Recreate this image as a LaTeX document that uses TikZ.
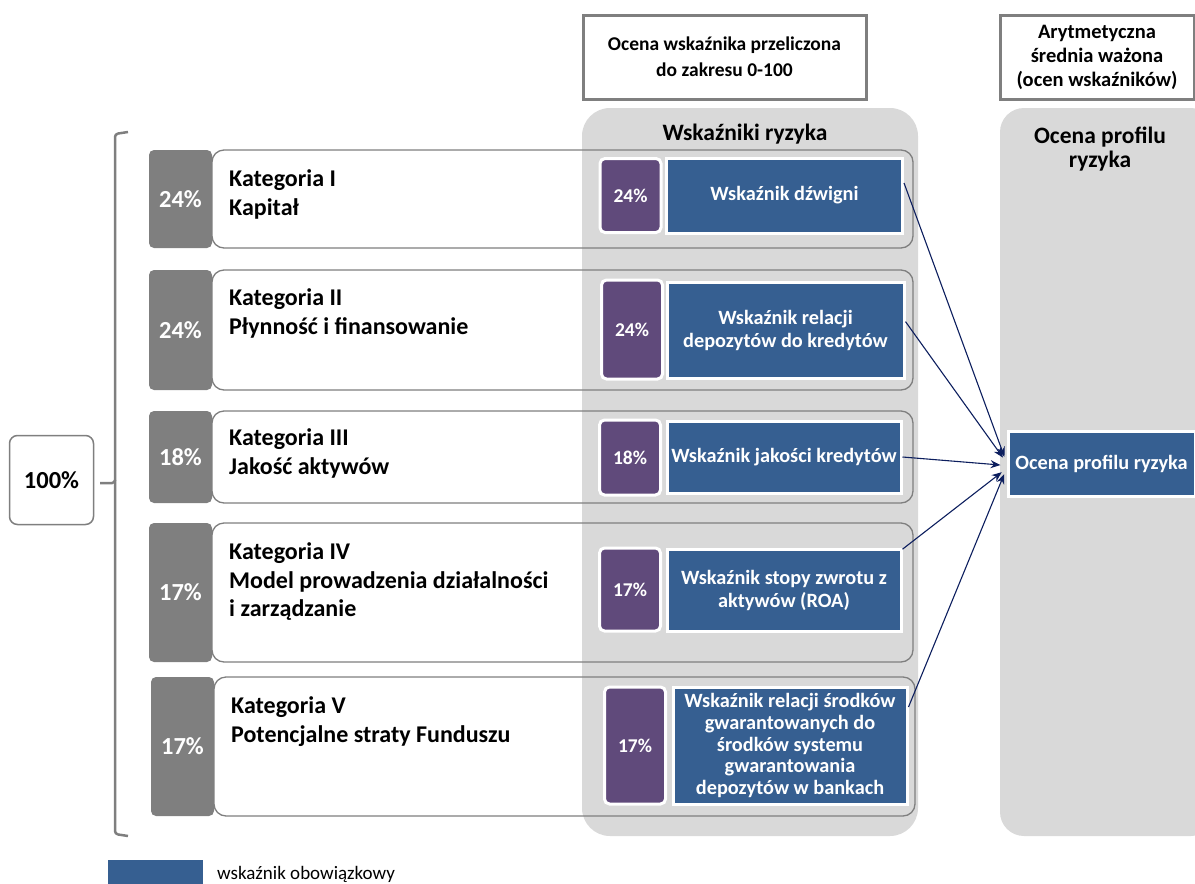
\documentclass[tikz,border=0pt]{standalone}
\usepackage{fontspec}
\setmainfont{Carlito}
\usetikzlibrary{arrows.meta}
\definecolor{tabgray}{HTML}{7F7F7F}
\definecolor{colgray}{HTML}{D9D9D9}
\definecolor{wblue}{HTML}{365F91}
\definecolor{wpurple}{HTML}{604A7B}
\definecolor{navy}{HTML}{0C1E5E}
\tikzset{
    tabbox/.style={fill=tabgray,rounded corners=5pt,minimum width=63pt,inner sep=0pt,text=white,font=\fontsize{24.5}{28}\selectfont\bfseries},
    rowfill/.style={fill=white,rounded corners=12pt,minimum width=701pt,inner sep=0pt},
    rowbox/.style={draw=tabgray,line width=1.3pt,rounded corners=12pt,minimum width=701pt,inner sep=0pt},
    pctbox/.style={fill=wpurple,draw=white,line width=3pt,rounded corners=5pt,minimum width=61pt,inner sep=0pt,text=white,font=\fontsize{19.5}{22}\selectfont\bfseries},
    wskbox/.style={fill=wblue,draw=white,line width=3pt,inner sep=0pt,align=center,text=white,font=\fontsize{20.3}{23}\selectfont\bfseries},
    headbox/.style={draw=tabgray,line width=3pt,fill=white,inner sep=0pt,align=center,font=\fontsize{19.5}{26}\selectfont\bfseries},
    colbox/.style={fill=colgray,rounded corners=28pt,minimum height=728pt,inner sep=0pt},
    katlabel/.style={anchor=north west,inner sep=0pt,align=left,font=\fontsize{24}{28.5}\selectfont\bfseries},
    brace/.style={draw=tabgray,line width=2.5pt,rounded corners=3pt},
}
\begin{document}
\begin{tikzpicture}[x=1pt,y=-1pt,>={Stealth[length=10pt,width=8pt]}]
        \useasboundingbox(0,0)rectangle(1195,884);
        % headers
        \node[headbox,minimum width=283pt,minimum height=84pt](h1)at(724.5,57){Ocena wskaźnika przeliczona\\do zakresu 0-100};
        \node[headbox,minimum width=194pt,minimum height=84pt,font=\fontsize{20.5}{24}\selectfont\bfseries](h2)at(1097,57){Arytmetyczna\\średnia ważona\\(ocen wskaźników)};
        % category tabs and row fills
        \node[tabbox,minimum height=98pt](c1)at(180.5,199){24\%};
        \node[tabbox,minimum height=120pt](c2)at(180.5,330){24\%};
        \node[tabbox,minimum height=92pt](c3)at(180.5,457){18\%};
        \node[tabbox,minimum height=139pt](c4)at(180.5,592.5){17\%};
        \node[tabbox,minimum height=139pt](c5)at(182.5,746.5){17\%};
        \node[rowfill,minimum height=98pt]at(562.5,199){};
        \node[rowfill,minimum height=120pt]at(562.5,330){};
        \node[rowfill,minimum height=92pt]at(562.5,457){};
        \node[rowfill,minimum height=139pt]at(562.5,592.5){};
        \node[rowfill,minimum height=139pt]at(564.5,746.5){};
        % columns
        \node[colbox,minimum width=336pt](col1)at(750,472){};
        \node[colbox,minimum width=215pt,rounded corners=24pt](col2)at(1107.5,472){};
        \node[font=\fontsize{23.5}{26}\selectfont\bfseries](col1t)at(745,134){Wskaźniki ryzyka};
        \node[align=center,font=\fontsize{23.5}{24}\selectfont\bfseries](col2t)at(1100,149){Ocena profilu\\ryzyka};
        % category rows
        \node[rowbox,minimum height=98pt](k1)at(562.5,199){};
        \node[rowbox,minimum height=120pt](k2)at(562.5,330){};
        \node[rowbox,minimum height=92pt](k3)at(562.5,457){};
        \node[rowbox,minimum height=139pt](k4)at(562.5,592.5){};
        \node[rowbox,minimum height=139pt](k5)at(564.5,746.5){};
        \node[katlabel](l1)at(229,169.5){Kategoria I\\Kapitał};
        \node[katlabel](l2)at(229,288.5){Kategoria II\\Płynność i finansowanie};
        \node[katlabel](l3)at(229,428.5){Kategoria III\\Jakość aktywów};
        \node[katlabel](l4)at(229,542.5){Kategoria IV\\Model prowadzenia działalności\\i zarządzanie};
        \node[katlabel](l5)at(231,696.5){Kategoria V\\Potencjalne straty Funduszu};
        % indicator weights and indicators
        \node[pctbox,minimum height=74pt](p1)at(630.5,195.5){24\%};
        \node[pctbox,minimum height=99pt](p2)at(632,329.5){24\%};
        \node[pctbox,minimum height=75pt](p3)at(630,457.5){18\%};
        \node[pctbox,minimum height=83pt](p4)at(630,589.5){17\%};
        \node[pctbox,minimum height=117pt](p5)at(635,745.5){17\%};
        \node[wskbox,minimum width=236pt,minimum height=75pt](w1)at(784.5,195.5){Wskaźnik dźwigni};
        \node[wskbox,minimum width=237pt,minimum height=96pt](w2)at(785.5,330){Wskaźnik relacji\\depozytów do kredytów};
        \node[wskbox,minimum width=234pt,minimum height=72pt](w3)at(784,457){Wskaźnik jakości kredytów};
        \node[wskbox,minimum width=234pt,minimum height=82pt](w4)at(784,590){Wskaźnik stopy zwrotu z\\aktywów (ROA)};
        \node[wskbox,minimum width=234pt,minimum height=117pt,font=\fontsize{20.3}{21.7}\selectfont\bfseries](w5)at(790,745.5){Wskaźnik relacji środków\\gwarantowanych do\\środków systemu\\gwarantowania\\depozytów w bankach};
        \node[wskbox,minimum width=187pt,minimum height=65pt](ocena)at(1101.5,463.5){Ocena profilu ryzyka};
        % total weight
        \node[draw=tabgray,line width=1.5pt,fill=white,rounded corners=8pt,minimum width=84pt,minimum height=89pt,inner sep=0pt,font=\fontsize{24.5}{28}\selectfont\bfseries](total)at(51.5,480){100\%};
        \draw[brace](128,132)--(115,134)--(115,483)--(100,483);
        \draw[brace](115,480)--(115,834)--(128,836);
        % arrows
        \draw[->,navy,line width=1.1pt,shorten >=6pt](w1.6)--([yshift=1pt]ocena.west);
        \draw[->,navy,line width=1.1pt,shorten >=6pt](w2.4)--([yshift=1pt]ocena.west);
        \draw[->,navy,line width=1.1pt,shorten >=6pt](w3.east)--([yshift=-2pt]ocena.west);
        \draw[->,navy,line width=1.1pt,shorten >=6pt](w4.19)--([yshift=-5pt]ocena.west);
        \draw[->,navy,line width=1.1pt,shorten >=6pt](w5.18)--([yshift=-5pt]ocena.west);
        % legend
        \node[fill=wblue,minimum width=95pt,minimum height=30pt,inner sep=0pt](leg)at(155.5,875){};
        \node[anchor=base west,inner sep=0pt,font=\fontsize{19}{22}\selectfont](legt)at(217,879){wskaźnik obowiązkowy};
    \end{tikzpicture}
\end{document}
